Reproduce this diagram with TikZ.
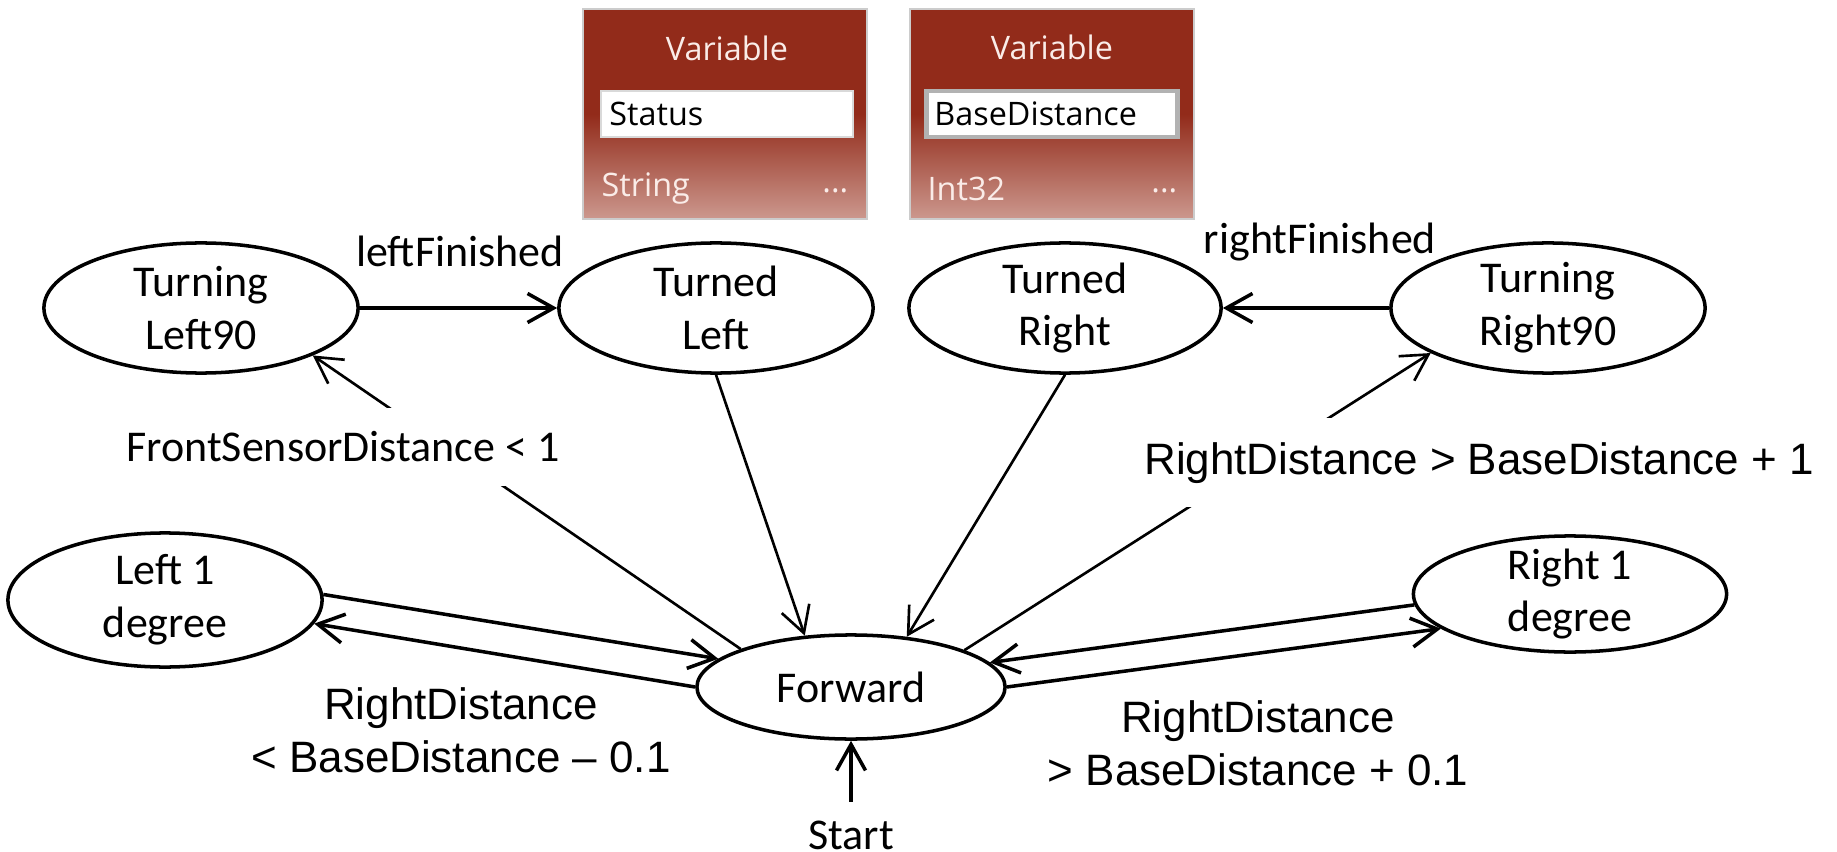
\documentclass[tikz,border=0pt]{standalone}
\usepackage{fontspec}
\setmainfont{Carlito}
\newfontfamily\arialf{Liberation Sans}
\newfontfamily\uifont{Open Sans}
\usepackage{tikz}
\usetikzlibrary{positioning, arrows.meta, shapes.geometric}
\definecolor{varRed}{RGB}{146,43,26}
\definecolor{varPink}{RGB}{204,152,142}
\definecolor{varText}{RGB}{250,236,232}
\newcommand{\lblfont}{\fontsize{12.5}{15}\selectfont}
\newcommand{\armfont}{\arialf\fontsize{12.5}{15}\selectfont}
\newcommand{\uitext}{\uifont\fontsize{9.2}{11}\selectfont}

\begin{document}
\begin{tikzpicture}[
  x=0.01cm, y=-0.01cm,
  font=\lblfont,
  st/.style={ellipse, draw, line width=1pt, align=center,
             inner xsep=0pt, inner ysep=-0.1cm},
  arr/.style={-{Straight Barb[length=2.6mm, width=2.9mm]}, line width=1pt},
  arrthin/.style={arr, line width=0.75pt},
  cover/.style={fill=white, inner sep=0.24cm},
  varbox/.style={draw=gray!40, line width=0.6pt, top color=varRed,
                 bottom color=varPink, middle color=varRed,
                 minimum width=2.84cm, minimum height=2.10cm, inner sep=0pt},
  field/.style={fill=white, minimum height=0.46cm, text width=2.35cm,
                align=left, inner xsep=0.08cm, inner ysep=0pt, font=\uitext},
  uilbl/.style={inner sep=0pt, font=\uitext, text=varText}
]
\useasboundingbox (0,0) rectangle (1837,852);

% Variable boxes
\node[varbox] (varStatus) at (725,114) {};
\node[field, draw=gray!30, line width=0.6pt] (varStatusName) at (727,114) {Status};
\node[uilbl, above=0.28cm of varStatusName] (varStatusHead) {Variable};
\node[uilbl, anchor=west] (varStatusType) at (601,189) {String};
\node[uilbl, anchor=east] (varStatusMore) at (849,191) {...};

\node[varbox] (varBase) at (1052,114) {};
\node[field, draw=gray!60, line width=1.2pt] (varBaseName) at (1052,114) {BaseDistance};
\node[uilbl, above=0.28cm of varBaseName] (varBaseHead) {Variable};
\node[uilbl, anchor=west] (varBaseType) at (927,189) {Int32};
\node[uilbl, anchor=east] (varBaseMore) at (1178,191) {...};

% States
\node[st, minimum width=3.14cm, minimum height=1.30cm] (turnL90) at (201,308) {Turning\\Left90};
\node[st, minimum width=3.14cm, minimum height=1.30cm] (turnedL) at (716,308) {Turned\\Left};
\node[st, minimum width=3.12cm, minimum height=1.30cm] (turnedR) at (1065,308) {Turned\\Right};
\node[st, minimum width=3.14cm, minimum height=1.30cm] (turnR90) at (1548,308) {Turning\\Right90};
\node[st, minimum width=3.14cm, minimum height=1.34cm] (left1) at (165,600) {Left 1\\degree};
\node[st, minimum width=3.13cm, minimum height=1.16cm] (right1) at (1570,594) {Right 1\\degree};
\node[st, minimum width=3.08cm, minimum height=1.04cm] (fwd) at (851,687) {Forward};
\node[below=0.61cm of fwd, inner sep=0.18cm] (start) {Start};

% Transitions
\draw[arr] (turnL90.east) -- (turnedL.west);
\draw[arr] (turnR90.west) -- (turnedR.east);
\draw[arrthin] (fwd.161) -- (turnL90.-23);
\draw[arrthin] (turnedL.south) -- (fwd.132);
\draw[arrthin] (turnedR.south) -- (fwd.42);
\draw[arrthin] (fwd.18) -- (turnR90.-159);
\draw[arr] (left1.2) -- (fwd.168);
\draw[arr] (fwd.west) -- (left1.-9);
\draw[arr] (right1.184) -- (fwd.10);
\draw[arr] (fwd.east) -- (right1.195);
\draw[arr] (start.north) -- (fwd.south);

% Guards
\node[anchor=base, inner sep=0pt] (lblLeftFin) at (460,267) {leftFinished};
\node[anchor=base, inner sep=0pt] (lblRightFin) at (1320,254) {rightFinished};
\node[cover, anchor=base] (lblFront) at (343,462) {FrontSensorDistance < 1};
\node[cover, anchor=base, font=\armfont] (lblTurnR) at (1479,474) {RightDistance > BaseDistance + 1};
\node[align=center, inner sep=0pt, font=\armfont] (lblLeft1) at (461,730) {RightDistance\\< BaseDistance – 0.1};
\node[align=center, inner sep=0pt, font=\armfont] (lblRight1) at (1258,743) {RightDistance\\> BaseDistance + 0.1};

\end{tikzpicture}
\end{document}
